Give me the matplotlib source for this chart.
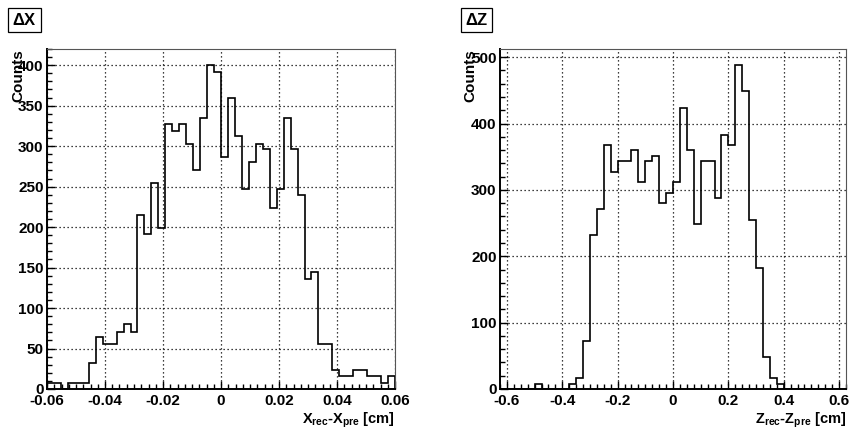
import numpy as np
import matplotlib
matplotlib.use('Agg')
import matplotlib.pyplot as plt
from matplotlib.ticker import MultipleLocator

# ΔX histogram: 50 bins between -0.06 and 0.06 cm
dx_range = (-0.06, 0.06)
dx_counts = [8, 8, 0, 8, 8, 8, 32, 64, 56, 56,
             71, 80, 71, 215, 191, 255, 199, 327, 319, 327,
             303, 271, 335, 400, 392, 287, 359, 312, 247, 280,
             303, 296, 223, 247, 335, 296, 240, 136, 144, 56,
             56, 23, 16, 16, 24, 24, 16, 16, 7, 16]

# ΔZ histogram: 50 bins between -0.625 and 0.625 cm
dz_range = (-0.625, 0.625)
dz_counts = [0, 0, 0, 0, 0, 8, 0, 0, 0, 0,
             8, 16, 72, 232, 271, 368, 327, 343, 343, 360,
             312, 343, 351, 280, 295, 312, 424, 360, 249, 343,
             343, 288, 383, 368, 488, 449, 255, 182, 48, 16,
             8, 0, 0, 0, 0, 0, 0, 0, 0, 0]

# フォント: ROOT風の太字
plt.rcParams['font.family'] = ['Liberation Sans', 'DejaVu Sans']
plt.rcParams['font.weight'] = 'bold'
plt.rcParams['mathtext.fontset'] = 'custom'
plt.rcParams['mathtext.rm'] = 'Liberation Sans'
plt.rcParams['mathtext.bf'] = 'Liberation Sans:bold'

fig = plt.figure(figsize=(8.5, 4.28), dpi=100)
ax_x = fig.add_axes([47 / 850, 39 / 428, 348 / 850, 340 / 428])
ax_z = fig.add_axes([500 / 850, 39 / 428, 346 / 850, 340 / 428])

panels = [
    (ax_x, dx_range, dx_counts, 0.02, 0.0025, 50, 10,
     r'$\Delta$X', r'$\mathbf{X_{rec}}$-$\mathbf{X_{pre}}$ [cm]', 8 / 850, -0.063),
    (ax_z, dz_range, dz_counts, 0.2, 0.025, 100, 20,
     r'$\Delta$Z', r'$\mathbf{Z_{rec}}$-$\mathbf{Z_{pre}}$ [cm]', 461 / 850, -0.066),
]

for ax, (lo, hi), counts, xmaj, xmin, ymaj, ymin, title, xlabel, tx, ylx in panels:
    edges = np.linspace(lo, hi, len(counts) + 1)
    ax.stairs(counts, edges, color='black', linewidth=1.2, baseline=0)

    ax.set_xlim(lo, hi)
    ax.set_ylim(0, max(counts) * 1.05)

    # 目盛り
    ax.xaxis.set_major_locator(MultipleLocator(xmaj))
    ax.xaxis.set_minor_locator(MultipleLocator(xmin))
    ax.yaxis.set_major_locator(MultipleLocator(ymaj))
    ax.yaxis.set_minor_locator(MultipleLocator(ymin))
    ax.tick_params(which='both', direction='in', top=False, right=False,
                   labelsize=11, width=1.0)
    ax.tick_params(which='major', length=6)
    ax.tick_params(which='minor', length=3.5)
    ax.tick_params(axis='x', pad=3.5)
    ax.tick_params(axis='y', pad=2.5)
    ax.xaxis.set_major_formatter(plt.FuncFormatter(lambda v, p: '%g' % round(v, 6)))

    # グリッド
    ax.grid(True, which='major', color='black', linestyle=(0, (1, 2.2)), linewidth=0.9)

    for side in ['left', 'bottom']:
        ax.spines[side].set_linewidth(1.4)
    for side in ['top', 'right']:
        ax.spines[side].set_linewidth(0.8)
        ax.spines[side].set_color('#555555')

    # 軸ラベル
    ax.set_xlabel(xlabel, fontsize=10.5, fontweight='bold', loc='right')
    ax.xaxis.set_label_coords(1.0, -0.063)
    ax.set_ylabel('Counts', fontsize=11, fontweight='bold', loc='top')
    ax.yaxis.set_label_coords(ylx, 1.0)

    # タイトル枠
    fig.text(tx + 4 / 850, 1 - 20 / 428, title, fontsize=12, fontweight='bold',
             ha='left', va='center',
             bbox=dict(boxstyle='square,pad=0.22', facecolor='white',
                       edgecolor='black', linewidth=0.9))

fig.savefig('out.png', dpi=100)
